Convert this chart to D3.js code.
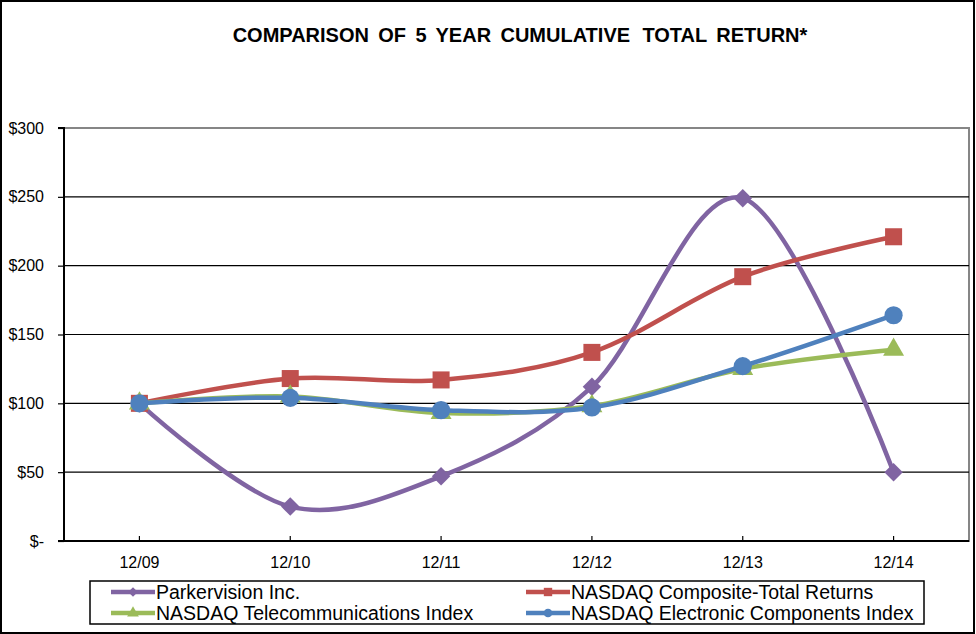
<!DOCTYPE html>
<html>
<head>
<meta charset="utf-8">
<script src="https://cdn.jsdelivr.net/npm/d3@7"></script>
<style>
    body { margin: 0; background: #fff; }
    svg { display: block; font-family: "Liberation Sans", Arial, sans-serif; }
</style>
</head>
<body>
<div id="chart"></div>
<script>
// data
const categories = ["12/09", "12/10", "12/11", "12/12", "12/13", "12/14"];
const parkervision = [100, 25, 47, 112, 249, 50];
const nasdaqComposite = [100, 118, 117, 137, 192, 221];
const nasdaqTelecom = [100, 105, 93, 98, 125, 139];
const nasdaqElectronic = [100, 104, 95, 97, 127, 164];
const yTicks = [0, 50, 100, 150, 200, 250, 300];

const series = [
    { name: "Parkervision Inc.", values: parkervision, color: "#8064a2", marker: "diamond" },
    { name: "NASDAQ Composite-Total Returns", values: nasdaqComposite, color: "#c0504d", marker: "square" },
    { name: "NASDAQ Telecommunications Index", values: nasdaqTelecom, color: "#9bbb59", marker: "triangle" },
    { name: "NASDAQ Electronic Components Index", values: nasdaqElectronic, color: "#4f81bd", marker: "circle" }
];

const width = 976, height = 634;
const margin = { top: 128, right: 7, bottom: 93, left: 64 };
const innerW = width - margin.left - margin.right,
    innerH = height - margin.top - margin.bottom;

const svg = d3.select("#chart")
    .append("svg")
    .attr("width", width)
    .attr("height", height);

// outer frame
svg.append("rect")
    .attr("x", 1).attr("y", 1)
    .attr("width", width - 3).attr("height", height - 2)
    .attr("fill", "#fff")
    .attr("stroke", "#000")
    .attr("stroke-width", 2);

// title, a bit more room before TOTAL like the original
const title = svg.append("text")
    .attr("x", 520)
    .attr("y", 42)
    .attr("text-anchor", "middle")
    .attr("font-size", 20)
    .attr("font-weight", "bold")
    .attr("word-spacing", 3.8);
title.append("tspan").text("COMPARISON OF 5 YEAR CUMULATIVE ");
title.append("tspan").attr("dx", 3).text("TOTAL RETURN*");

const g = svg.append("g")
    .attr("transform", "translate(" + margin.left + "," + margin.top + ")");

const x = d3.scaleBand().domain(categories).range([0, innerW]);
const y = d3.scaleLinear().domain([0, 300]).range([innerH, 0]);

// plot border (grey top/right)
g.append("rect")
    .attr("width", innerW).attr("height", innerH)
    .attr("fill", "none")
    .attr("stroke", "#868686")
    .attr("stroke-width", 2);

// gridlines
g.selectAll(".grid")
    .data(yTicks.filter(d => d > 0 && d < 300))
    .enter()
    .append("line")
    .attr("x1", 0).attr("x2", innerW)
    .attr("y1", d => y(d)).attr("y2", d => y(d))
    .attr("stroke", "#000")
    .attr("stroke-width", 1.2);

// y axis
const yAxis = d3.axisLeft(y)
    .tickValues(yTicks)
    .tickSize(6)
    .tickPadding(14)
    .tickFormat(d => d === 0 ? "$-" : "$" + d);
const ya = g.append("g").call(yAxis);
ya.select(".domain").attr("stroke", "#000").attr("stroke-width", 2).attr("d", "M-6,0H0V" + innerH + "H-6");
ya.selectAll("line").attr("stroke", "#000").attr("stroke-width", 1.2);
ya.selectAll("text").attr("font-size", 16).attr("fill", "#000").attr("font-family", "Liberation Sans, Arial, sans-serif");

// x axis, ticks pointing inward
const xAxis = d3.axisBottom(x).tickSize(-5).tickPadding(16);
const xa = g.append("g")
    .attr("transform", "translate(0," + innerH + ")")
    .call(xAxis);
xa.select(".domain").attr("stroke", "#000").attr("stroke-width", 2).attr("d", "M0,0H" + innerW);
xa.selectAll("line").attr("stroke", "#000").attr("stroke-width", 1.2);
xa.selectAll("text").attr("font-size", 16).attr("fill", "#000").attr("font-family", "Liberation Sans, Arial, sans-serif");

const cx = d => x(d) + x.bandwidth() / 2;
const line = d3.line()
    .x((d, i) => cx(categories[i]))
    .y(d => y(d))
    .curve(d3.curveCatmullRom.alpha(0));

const symbolFor = {
    diamond: { sym: d3.symbol().type(d3.symbolSquare).size(170), rot: 45 },
    square: { sym: d3.symbol().type(d3.symbolSquare).size(290), rot: 0 },
    triangle: { sym: d3.symbol().type(d3.symbolTriangle).size(190), rot: 0 },
    circle: { sym: d3.symbol().type(d3.symbolCircle).size(260), rot: 0 }
};

series.forEach(s => {
    const sg = g.append("g").attr("class", "series");
    sg.append("path")
        .datum(s.values)
        .attr("d", line)
        .attr("fill", "none")
        .attr("stroke", s.color)
        .attr("stroke-width", 4.5)
        .attr("stroke-linejoin", "round");
    const m = symbolFor[s.marker];
    sg.selectAll("path.marker")
        .data(s.values)
        .enter()
        .append("path")
        .attr("class", "marker")
        .attr("d", m.sym)
        .attr("transform", (d, i) => "translate(" + cx(categories[i]) + "," + y(d) + ") rotate(" + m.rot + ")")
        .attr("fill", s.color);
});

// legend
const legend = svg.append("g");
legend.append("rect")
    .attr("x", 90).attr("y", 581)
    .attr("width", 834).attr("height", 43)
    .attr("fill", "#fff")
    .attr("stroke", "#000")
    .attr("stroke-width", 1.5);

const legendPos = [[111, 592], [526, 592], [111, 613], [526, 613]];
const legendSymbols = {
    diamond: { sym: d3.symbol().type(d3.symbolSquare).size(45), rot: 45 },
    square: { sym: d3.symbol().type(d3.symbolSquare).size(70), rot: 0 },
    triangle: { sym: d3.symbol().type(d3.symbolTriangle).size(60), rot: 0 },
    circle: { sym: d3.symbol().type(d3.symbolCircle).size(60), rot: 0 }
};
series.forEach((s, i) => {
    const [lx, ly] = legendPos[i];
    const item = legend.append("g").attr("transform", "translate(" + lx + "," + ly + ")");
    item.append("line")
        .attr("x1", 0).attr("x2", 44)
        .attr("stroke", s.color)
        .attr("stroke-width", 4.5);
    const m = legendSymbols[s.marker];
    item.append("path")
        .attr("d", m.sym)
        .attr("transform", "translate(22,0) rotate(" + m.rot + ")")
        .attr("fill", s.color);
    item.append("text")
        .attr("x", 45)
        .attr("dy", "0.36em")
        .attr("font-size", 19.5)
        .text(s.name);
});
</script>
</body>
</html>
